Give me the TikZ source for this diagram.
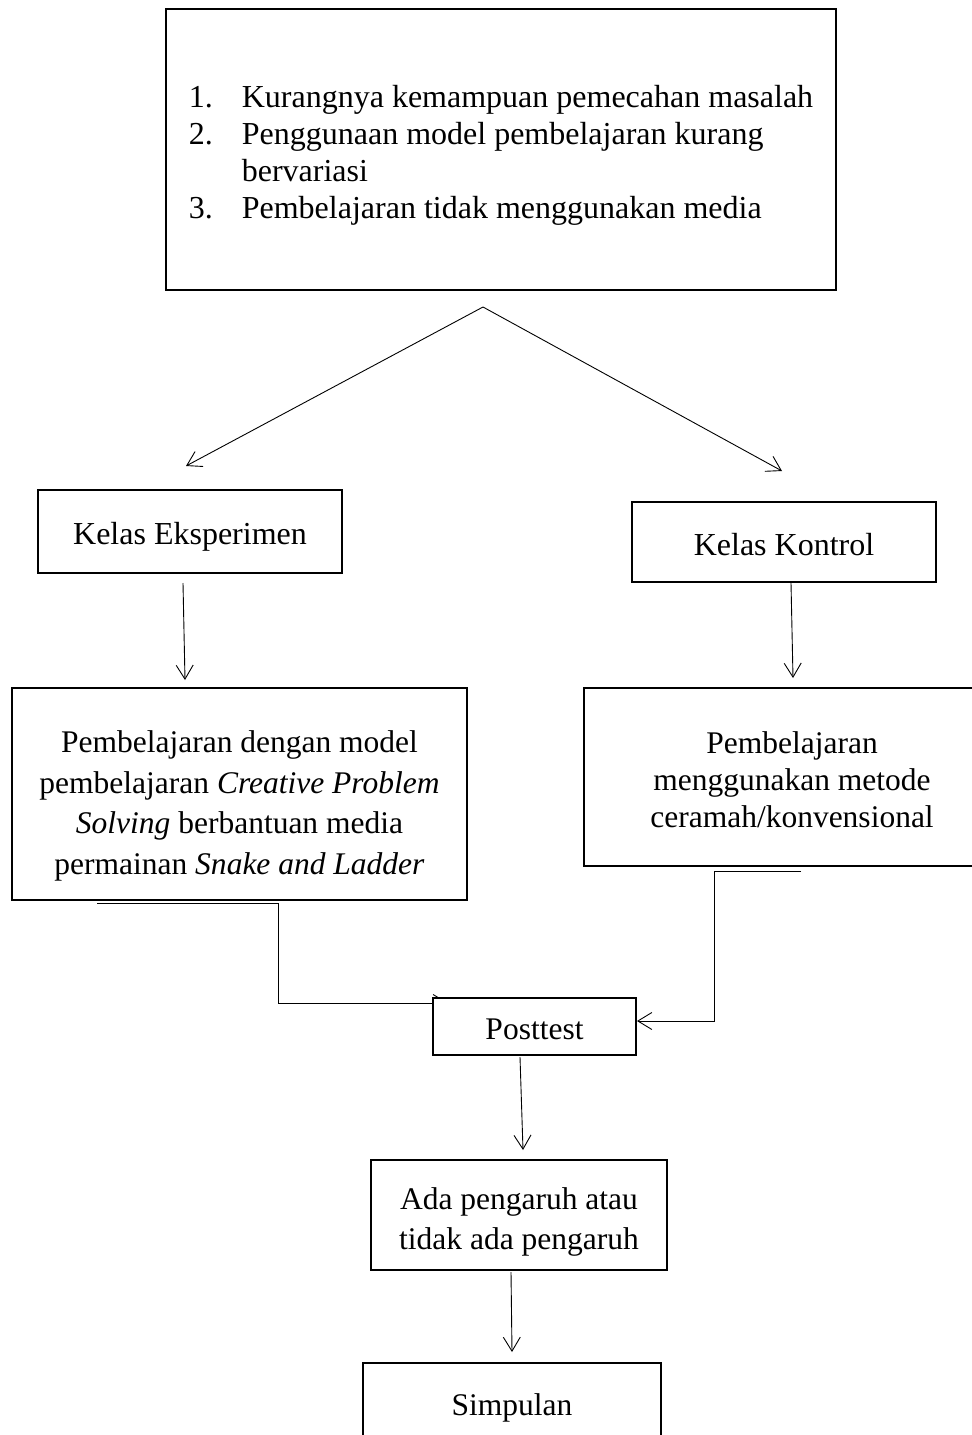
\documentclass[tikz,border=0pt]{standalone}
\usepackage{fontspec}
\setmainfont{Liberation Serif}
\usetikzlibrary{arrows.meta,backgrounds}
\begin{document}
\begin{tikzpicture}[x=1bp,y=-1bp,
  frame/.style={draw,line width=1.6bp,fill=white,inner sep=0pt},
  txt/.style={inner sep=0pt,align=center,font=\fontsize{31.5bp}{40.7bp}\selectfont},
  conn/.style={line width=0.9bp},
  arr/.style={conn,-{Straight Barb[length=14bp,width=17bp,line width=0.9bp]}}]
\useasboundingbox (0,0) rectangle (971,1435);

% frames
\node[frame,line width=1.3bp,minimum width=670bp,minimum height=281bp] (prob) at (501,149.5) {};
\node[frame,minimum width=304bp,minimum height=83bp] (eks) at (190,531.5) {};
\node[frame,minimum width=304bp,minimum height=80bp] (kon) at (784,542) {};
\node[frame,minimum width=455bp,minimum height=212bp] (cps) at (239.5,794) {};
\node[frame,minimum width=416bp,minimum height=178bp] (cer) at (792,777) {};
\node[frame,minimum width=203bp,minimum height=57bp] (post) at (534.5,1026.5) {};
\node[frame,minimum width=296bp,minimum height=110bp] (ada) at (519,1215) {};
\node[frame,minimum width=298bp,minimum height=84bp] (simp) at (512,1405) {};

% texts
\node[txt,align=left,font=\fontsize{32bp}{37bp}\selectfont] (probT) at (501,155.5)
  {\makebox[53bp][l]{1.}Kurangnya kemampuan pemecahan masalah\\
   \makebox[53bp][l]{2.}Penggunaan model pembelajaran kurang\\
   \hspace*{53bp}bervariasi\\
   \makebox[53bp][l]{3.}Pembelajaran tidak menggunakan media};
\node[txt,font=\fontsize{32bp}{37bp}\selectfont] (eksT) at (190,536.5) {Kelas Eksperimen};
\node[txt,font=\fontsize{32bp}{37bp}\selectfont] (konT) at (784,545) {Kelas Kontrol};
\node[txt] (cpsT) at (239.5,806)
  {Pembelajaran dengan model\\
   pembelajaran \textit{Creative Problem}\\
   \textit{Solving} berbantuan media\\
   permainan \textit{Snake and Ladder}};
\node[txt,font=\fontsize{31.5bp}{37bp}\selectfont] (cerT) at (792,779.5)
  {Pembelajaran\\ menggunakan metode\\ ceramah/konvensional};
\node[txt] (postT) at (534.5,1029.5) {Posttest};
\node[txt] (adaT) at (519,1222) {Ada pengaruh atau\\ tidak ada pengaruh};
\node[txt] (simpT) at (512,1408) {Simpulan};

\coordinate (apex) at (483,307);
\coordinate (tipE) at (186,466);
\coordinate (tipK) at (782,471);
\coordinate (eksS) at (183,583);
\coordinate (cpsN) at (185,680);
\coordinate (konS) at (791,583);
\coordinate (cerN) at (793,678);
\coordinate (cpsOut) at (97,903);
\coordinate (cpsBend) at (278,903);
\coordinate (postInL) at (448,1003);
\coordinate (cerOut) at (801,871);
\coordinate (cerBend) at (714,871);
\coordinate (postInR) at (637,1021);
\coordinate (postS) at (520,1057);
\coordinate (adaN) at (523,1150);
\coordinate (adaS) at (511,1272);
\coordinate (simpN) at (512,1352);

\begin{scope}[on background layer]
\draw[arr] (apex) -- (tipE);
\draw[arr] (apex) -- (tipK);
\draw[arr] (eksS) -- (cpsN);
\draw[arr] (konS) -- (cerN);
\draw[arr] (cpsOut) -- (cpsBend) |- (postInL);
\draw[arr] (cerOut) -- (cerBend) |- (postInR);
\draw[arr] (postS) -- (adaN);
\draw[arr] (adaS) -- (simpN);
\end{scope}
\end{tikzpicture}
\end{document}
